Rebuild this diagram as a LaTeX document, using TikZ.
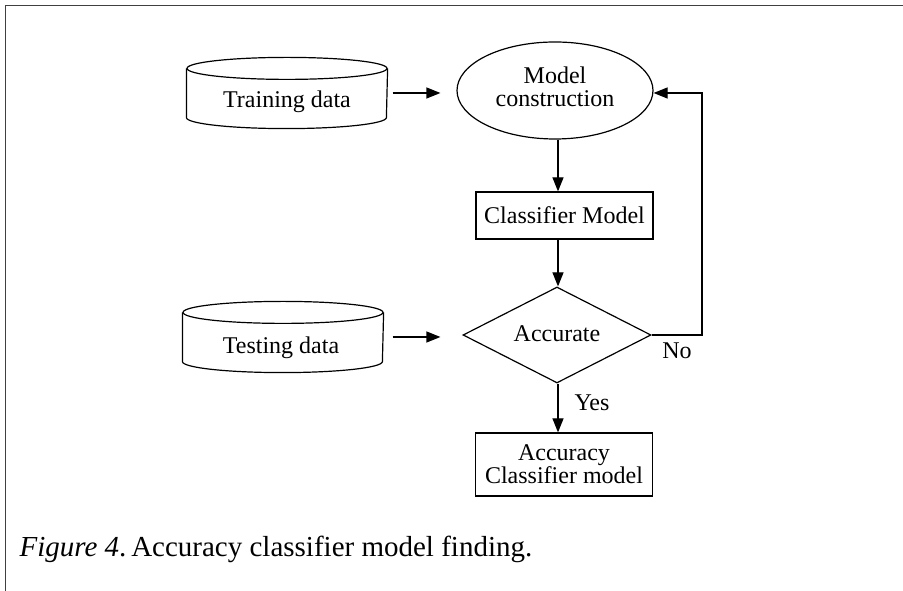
\documentclass[tikz,border=0pt]{standalone}
\usepackage{fontspec}
\setmainfont{Liberation Serif}
\usetikzlibrary{shapes.geometric,arrows.meta,calc}
\begin{document}
\begin{tikzpicture}[x=1pt,y=1pt,
  line width=1.2pt,
  every node/.style={font=\fontsize{24}{24}\selectfont, inner sep=0pt},
  arr/.style={-{Triangle[length=14pt,width=11pt]}, line width=1.2pt},
  boxnode/.style={draw, rectangle, minimum width=177pt, align=center},
  cylnode/.style={rectangle, minimum width=200pt, minimum height=70pt},
  lbl/.style={font=\fontsize{24}{24}\selectfont}
]
\useasboundingbox (0,0) rectangle (903,591);
% frame
\draw[line width=1.5pt, black!75] (5.5,0) -- (5.5,585.5) -- (903,585.5);

% Training data cylinder
\node[cylnode] (train) at (287,498) {};
\draw ($(train.north)+(0,-11)$) ellipse [x radius=100, y radius=11];
\draw ($(train.north west)+(0,-11)$) -- ($(train.south west)+(0,11)$)
      arc[start angle=180, end angle=360, x radius=100, y radius=11]
      -- ($(train.north east)+(0,-11)$);
\node (traint) at (287,489) {Training data};

% Testing data cylinder
\node[cylnode] (test) at (283,254) {};
\draw ($(test.north)+(0,-11)$) ellipse [x radius=100, y radius=11];
\draw ($(test.north west)+(0,-11)$) -- ($(test.south west)+(0,11)$)
      arc[start angle=180, end angle=360, x radius=100, y radius=11]
      -- ($(test.north east)+(0,-11)$);
\node (testt) at (281,243.5) {Testing data};

% Model construction ellipse
\node[draw, ellipse, minimum width=196pt, minimum height=97pt] (model) at (555,500.5) {};
\node[align=center, font=\fontsize{24}{23}\selectfont] (modelt) at (555,504) {Model\\construction};

% Classifier Model box
\node[boxnode, minimum height=47pt] (cls) at (564.5,375.5) {Classifier Model};

% Accurate diamond
\node[draw, diamond, aspect=2, minimum width=188pt, minimum height=96pt] (dia) at (557,256) {};
\node (diat) at (557,257) {Accurate};

% Accuracy classifier model box
\node[boxnode, minimum height=63pt, font=\fontsize{24}{22}\selectfont] (acc) at (564,126.5) {Accuracy\\Classifier model};

% connectors
\coordinate (ax) at (558,0);
\draw[arr] ([xshift=5pt]train.east) -- ([xshift=-16pt]model.west |- train.east);
\draw[arr] ([xshift=9pt]test.east) -- ([xshift=-22pt]dia.west |- test.east);
\draw[arr] (ax |- model.south) -- (ax |- cls.north);
\draw[arr] (ax |- cls.south) -- (ax |- dia.north);
\draw[arr] (ax |- dia.south) -- (ax |- acc.north);
\coordinate (fb) at (702,498);
\draw[arr] (dia.east) -| (fb) -- (fb -| model.east);

\node[lbl] (no) at (677,240) {No};
\node[lbl] (yes) at (592,188) {Yes};

% caption
\node[anchor=base west, font=\fontsize{29}{29}\selectfont] (cap) at (19,34) {\textit{Figure 4}.\,Accuracy classifier model finding.};
\end{tikzpicture}
\end{document}
